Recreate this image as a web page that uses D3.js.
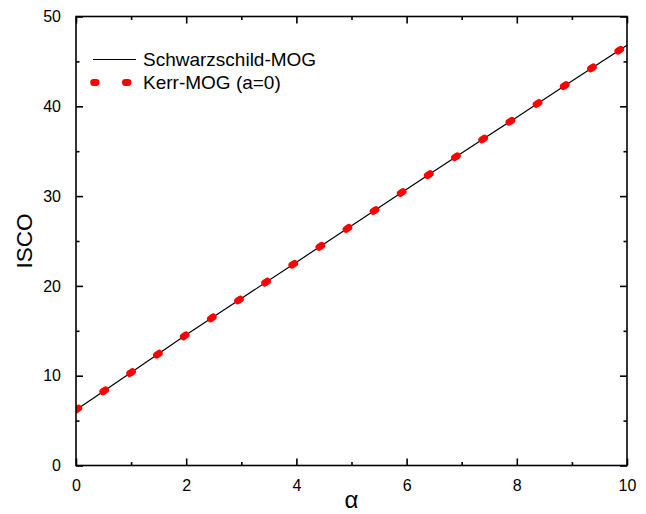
<!DOCTYPE html>
<html>
<head>
<meta charset="utf-8">
<script src="https://cdn.jsdelivr.net/npm/d3@7"></script>
<style>
  html, body { margin: 0; padding: 0; background: #fff; }
  svg { display: block; }
  text { font-family: "Liberation Sans", Arial, sans-serif; fill: #000; }
</style>
</head>
<body>
<svg id="chart" width="646" height="514"></svg>
<script>
// ISCO radius versus the MOG parameter alpha
const alphaValues = [0, 1, 2, 3, 4, 5, 6, 7, 8, 9, 10];
const schwarzschildISCO = [6.18, 10.35, 14.55, 18.60, 22.64, 26.70, 30.76, 34.81, 38.79, 42.83, 46.80];
const kerrISCO = [6.18, 10.35, 14.55, 18.60, 22.64, 26.70, 30.76, 34.81, 38.79, 42.83, 46.80];

const xTicks = [0, 2, 4, 6, 8, 10];
const xMinorTicks = [1, 3, 5, 7, 9];
const yTicks = [0, 10, 20, 30, 40, 50];
const yMinorTicks = [5, 15, 25, 35, 45];

const seriesNames = ["Schwarzschild-MOG", "Kerr-MOG (a=0)"];

const svg = d3.select("#chart");
const m = { left: 76, right: 627, top: 16.5, bottom: 465.5 };

const x = d3.scaleLinear().domain([0, 10]).range([m.left, m.right]);
const y = d3.scaleLinear().domain([0, 50]).range([m.bottom, m.top]);

svg.append("defs").append("clipPath").attr("id", "plotClip")
  .append("rect")
  .attr("x", m.left).attr("y", m.top)
  .attr("width", m.right - m.left).attr("height", m.bottom - m.top);

const plot = svg.append("g").attr("clip-path", "url(#plotClip)");

const line = d3.line().x(d => x(d[0])).y(d => y(d[1]));

// solid black curve
plot.append("path")
  .datum(alphaValues.map((a, i) => [a, schwarzschildISCO[i]]))
  .attr("d", line)
  .attr("fill", "none")
  .attr("stroke", "#000")
  .attr("stroke-width", 1.2);

// red dotted curve on top
plot.append("path")
  .datum(alphaValues.map((a, i) => [a, kerrISCO[i]]))
  .attr("d", line)
  .attr("fill", "none")
  .attr("stroke", "#ff0000")
  .attr("stroke-width", 7)
  .attr("stroke-linecap", "round")
  .attr("stroke-dasharray", "3.2,29.3");

// axes: ticks point inward on all four sides
const majorLen = 7, minorLen = 3.5;
const axisStroke = 1.6;

function styleAxis(g) {
  g.select(".domain").remove();
  g.selectAll(".tick line").attr("stroke", "#000").attr("stroke-width", axisStroke);
}

svg.append("g")
  .attr("transform", `translate(0,${m.bottom})`)
  .call(d3.axisBottom(x).tickValues(xTicks).tickSize(-majorLen).tickPadding(14).tickFormat(d3.format("d")))
  .call(styleAxis)
  .call(g => g.selectAll("text").attr("font-size", 16).attr("font-family", "Liberation Sans, Arial, sans-serif"));
svg.append("g")
  .attr("transform", `translate(0,${m.bottom})`)
  .call(d3.axisBottom(x).tickValues(xMinorTicks).tickSize(-minorLen).tickFormat(""))
  .call(styleAxis);

svg.append("g")
  .attr("transform", `translate(0,${m.top})`)
  .call(d3.axisTop(x).tickValues(xTicks).tickSize(-majorLen).tickFormat(""))
  .call(styleAxis);
svg.append("g")
  .attr("transform", `translate(0,${m.top})`)
  .call(d3.axisTop(x).tickValues(xMinorTicks).tickSize(-minorLen).tickFormat(""))
  .call(styleAxis);

svg.append("g")
  .attr("transform", `translate(${m.left},0)`)
  .call(d3.axisLeft(y).tickValues(yTicks).tickSize(-majorLen).tickPadding(15).tickFormat(d3.format("d")))
  .call(styleAxis)
  .call(g => g.selectAll("text").attr("font-size", 16).attr("font-family", "Liberation Sans, Arial, sans-serif"));
svg.append("g")
  .attr("transform", `translate(${m.left},0)`)
  .call(d3.axisLeft(y).tickValues(yMinorTicks).tickSize(-minorLen).tickFormat(""))
  .call(styleAxis);

svg.append("g")
  .attr("transform", `translate(${m.right},0)`)
  .call(d3.axisRight(y).tickValues(yTicks).tickSize(-majorLen).tickFormat(""))
  .call(styleAxis);
svg.append("g")
  .attr("transform", `translate(${m.right},0)`)
  .call(d3.axisRight(y).tickValues(yMinorTicks).tickSize(-minorLen).tickFormat(""))
  .call(styleAxis);

// frame
svg.append("rect")
  .attr("x", m.left).attr("y", m.top)
  .attr("width", m.right - m.left).attr("height", m.bottom - m.top)
  .attr("fill", "none")
  .attr("stroke", "#000")
  .attr("stroke-width", axisStroke);

// axis titles
svg.append("text")
  .attr("x", (m.left + m.right) / 2)
  .attr("y", 508)
  .attr("text-anchor", "middle")
  .attr("font-family", "Liberation Serif, 'Times New Roman', serif")
  .attr("font-size", 24)
  .text("α");

svg.append("text")
  .attr("transform", `translate(32,${(m.top + m.bottom) / 2}) rotate(-90)`)
  .attr("text-anchor", "middle")
  .attr("font-size", 22.5)
  .text("ISCO");

// legend
const legend = svg.append("g");
legend.append("line")
  .attr("x1", 93).attr("x2", 136).attr("y1", 59.5).attr("y2", 59.5)
  .attr("stroke", "#000").attr("stroke-width", 1.2);
legend.append("text")
  .attr("x", 143).attr("y", 65.5)
  .attr("font-size", 19)
  .text(seriesNames[0]);

legend.append("line")
  .attr("x1", 93.6).attr("x2", 136).attr("y1", 82.5).attr("y2", 82.5)
  .attr("stroke", "#ff0000").attr("stroke-width", 6.8)
  .attr("stroke-linecap", "round")
  .attr("stroke-dasharray", "2.6,29.2");
legend.append("text")
  .attr("x", 143).attr("y", 89)
  .attr("font-size", 19)
  .text(seriesNames[1]);
</script>
</body>
</html>
